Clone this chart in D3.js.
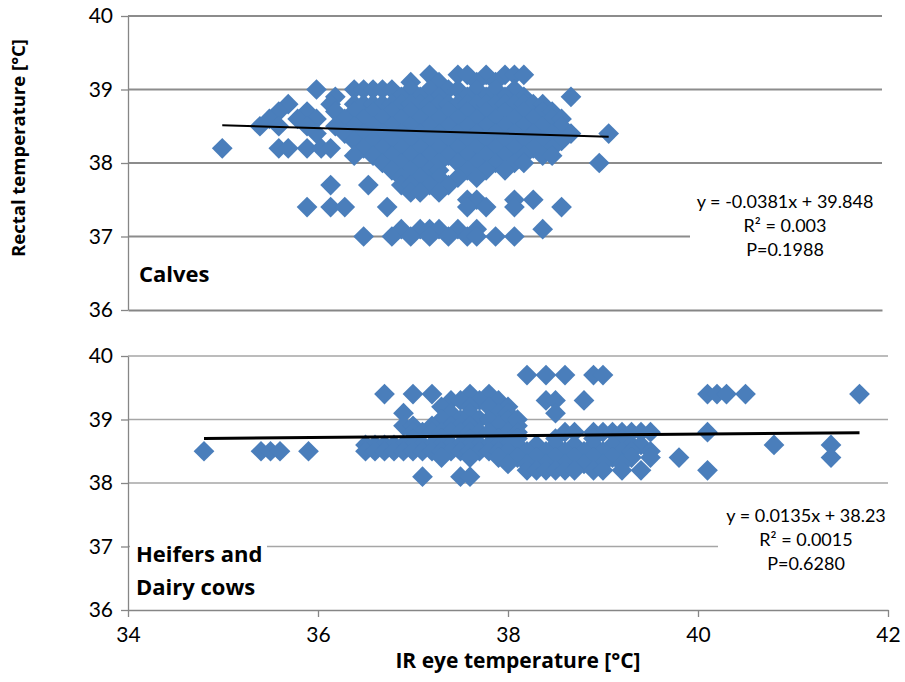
<!DOCTYPE html>
<html>
<head>
<meta charset="utf-8">
<script src="https://cdn.jsdelivr.net/npm/d3@7"></script>
<style>
  body { margin: 0; background: #fff; }
  text { font-family: Lato, "Noto Sans", sans-serif; fill: #000; }
  text.bold { font-family: "Open Sans", sans-serif; font-weight: bold; }
</style>
</head>
<body>
<script>
const width = 905;
const height = 682;

// data: [y, [x values on that row]]
const calvesRows = [
  [39.2, [37.2, 37.5, 37.6, 37.8, 38.0, 38.1, 38.2]],
  [39.1, [37.0, 37.3, 37.7, 37.9]],
  [39.0, [36.0, 36.4, 36.5, 36.6, 36.7, 36.8, 37.0, 37.2, 37.4, 37.5, 37.7, 37.9, 38.1]],
  [38.9, [36.2, 36.9, 37.1, 37.3, 37.6, 37.8, 38.0, 38.2, 38.7]],
  [38.8, [35.7, 36.15, 36.4, 36.5, 36.6, 36.7, 36.8, 36.9, 37.0, 37.1, 37.2, 37.3, 37.4, 37.5, 37.6, 37.7, 37.8, 37.9, 38.0, 38.1, 38.2, 38.3, 38.4]],
  [38.7, [35.6, 35.9, 36.2, 36.4, 36.6, 36.8, 37.0, 37.2, 37.4, 37.6, 37.8, 38.0, 38.2, 38.4, 38.5]],
  [38.6, [35.5, 35.8, 36.0, 36.3, 36.5, 36.7, 36.9, 37.1, 37.3, 37.5, 37.7, 37.9, 38.1, 38.3, 38.5, 38.6]],
  [38.5, [35.4, 35.6, 35.9, 36.2, 36.4, 36.6, 36.8, 37.0, 37.2, 37.4, 37.6, 37.8, 38.0, 38.2, 38.4, 38.6]],
  [38.4, [36.0, 36.3, 36.5, 36.7, 36.9, 37.1, 37.3, 37.5, 37.7, 37.9, 38.1, 38.3, 38.5, 38.7, 39.1]],
  [38.3, [36.4, 36.6, 36.8, 37.0, 37.2, 37.4, 37.6, 37.8, 38.0, 38.2, 38.4, 38.6]],
  [38.2, [35.0, 35.6, 35.7, 35.9, 36.05, 36.15, 36.5, 36.7, 36.9, 37.1, 37.3, 37.5, 37.7, 37.9, 38.1, 38.3, 38.5]],
  [38.1, [36.4, 36.6, 36.8, 37.0, 37.2, 37.4, 37.6, 37.8, 38.0, 38.2, 38.4, 38.5]],
  [38.0, [36.7, 36.9, 37.1, 37.3, 37.5, 37.7, 37.9, 38.1, 38.2, 39.0]],
  [37.9, [36.8, 37.0, 37.2, 37.3, 37.6, 37.8, 38.0]],
  [37.8, [36.9, 37.1, 37.3, 37.5, 37.7]],
  [37.7, [36.15, 36.55, 36.9, 37.0, 37.2, 37.4]],
  [37.6, [37.0, 37.1, 37.3]],
  [37.5, [37.6, 37.7, 38.1, 38.3]],
  [37.4, [35.9, 36.15, 36.3, 36.75, 37.6, 37.8, 38.1, 38.6]],
  [37.1, [36.9, 37.1, 37.2, 37.3, 37.5, 37.7, 38.4]],
  [37.0, [36.5, 36.8, 37.0, 37.2, 37.4, 37.6, 37.7, 37.9, 38.1]]
];

const cowsRows = [
  [39.7, [38.2, 38.4, 38.6, 38.9, 39.0]],
  [39.4, [36.7, 37.0, 37.2, 37.6, 37.8, 40.1, 40.2, 40.3, 40.5, 41.7]],
  [39.3, [37.4, 37.5, 37.7, 37.9, 38.4, 38.5, 38.8]],
  [39.2, [37.3, 37.6, 37.8, 38.0]],
  [39.1, [36.9, 37.4, 37.6, 37.9, 38.0, 38.5]],
  [39.0, [37.3, 37.5, 37.7, 37.8, 38.0, 38.1]],
  [38.9, [36.9, 37.0, 37.2, 37.4, 37.5, 37.6, 37.9, 38.1]],
  [38.8, [37.0, 37.1, 37.2, 37.3, 37.4, 37.5, 37.6, 37.7, 37.8, 38.0, 38.1, 38.6, 38.7, 38.9, 39.0, 39.1, 39.2, 39.3, 39.4, 39.5, 40.1]],
  [38.7, [37.0, 37.3, 37.6, 37.9, 38.1, 38.5, 38.9, 39.2]],
  [38.6, [36.5, 36.6, 36.7, 36.8, 36.9, 37.0, 37.1, 37.2, 37.3, 37.4, 37.5, 37.6, 37.7, 37.8, 37.9, 38.0, 38.1, 38.3, 38.5, 38.7, 38.9, 39.1, 39.3, 39.4, 40.8, 41.4]],
  [38.5, [34.8, 35.4, 35.5, 35.6, 35.9, 36.5, 36.6, 36.7, 36.8, 36.9, 37.0, 37.1, 37.2, 37.3, 37.4, 37.5, 37.6, 37.7, 37.8, 37.9, 38.0, 38.2, 38.4, 38.6, 38.8, 39.0, 39.2, 39.3, 39.5]],
  [38.4, [37.3, 37.6, 37.9, 38.1, 38.3, 38.5, 38.7, 38.9, 39.1, 39.3, 39.5, 39.8, 41.4]],
  [38.3, [38.0, 38.2, 38.4, 38.6, 38.8, 39.0, 39.2]],
  [38.2, [38.2, 38.3, 38.4, 38.5, 38.6, 38.7, 38.9, 39.0, 39.2, 39.4, 40.1]],
  [38.1, [37.1, 37.5, 37.6]]
];

const xTicks = [34, 36, 38, 40, 42];
const yTicks = [36, 37, 38, 39, 40];

const calvesFit = [-0.0381, 39.848];
const cowsFit = [0.0135, 38.23];
const calvesText = ['y = -0.0381x + 39.848', 'R² = 0.003', 'P=0.1988'];
const cowsText = ['y = 0.0135x + 38.23', 'R² = 0.0015', 'P=0.6280'];
const calvesName = ['Calves'];
const cowsName = ['Heifers and', 'Dairy cows'];

const toPoints = rows => rows.flatMap(([y, xs]) => xs.map(x => [x, y]));
const calves = toPoints(calvesRows);
const cows = toPoints(cowsRows);

const svg = d3.select('body')
  .append('svg')
  .attr('width', width)
  .attr('height', height);

const blue = '#4a7ebb';
const diamond = d3.symbol(d3.symbolSquare, 215);

function panel(cfg) {
  const { x, y, points, fit, grid, gridW, top } = cfg;
  const g = svg.append('g');
  const [x0, x1] = x.range();

  // gridlines
  g.selectAll('line.grid')
    .data(yTicks.slice(1))
    .join('line')
    .attr('x1', x0).attr('x2', x1)
    .attr('y1', d => y(d)).attr('y2', d => y(d))
    .attr('stroke', grid)
    .attr('stroke-width', gridW);

  // y axis
  const ya = g.append('g')
    .attr('transform', `translate(${x0},0)`)
    .call(d3.axisLeft(y).tickValues(yTicks).tickFormat(d3.format('d'))
      .tickSize(7).tickSizeOuter(0).tickPadding(8));
  ya.select('.domain').attr('stroke', '#868686').attr('stroke-width', 1.3);
  ya.selectAll('.tick line').attr('stroke', '#868686').attr('stroke-width', 1.3);
  ya.selectAll('.tick text').style('font-size', '21px').attr('fill', '#000');

  // x axis (labels only on the lower panel)
  const xa = g.append('g')
    .attr('transform', `translate(0,${y(36)})`)
    .call(d3.axisBottom(x).tickValues(top ? [] : xTicks).tickFormat(d3.format('d'))
      .tickSize(7).tickSizeOuter(0).tickPadding(10));
  xa.select('.domain').attr('stroke', '#868686').attr('stroke-width', top ? 2 : 1.3);
  xa.selectAll('.tick line').attr('stroke', '#868686').attr('stroke-width', 1.3);
  xa.selectAll('.tick text').style('font-size', '21px').attr('fill', '#000');

  // markers
  g.selectAll('path.pt')
    .data(points)
    .join('path')
    .attr('class', 'pt')
    .attr('d', diamond)
    .attr('transform', d => `translate(${x(d[0])},${y(d[1])}) rotate(45)`)
    .attr('fill', blue);

  // trendline across the data range
  const ext = d3.extent(points, d => d[0]);
  g.append('path')
    .datum(ext)
    .attr('d', d3.line().x(d => x(d)).y(d => y(fit[0] * d + fit[1])))
    .attr('stroke', '#000')
    .attr('stroke-width', top ? 2 : 3)
    .attr('fill', 'none');
  return g;
}

function labelBox(g, lines, box, tx, ty0, dy, anchor, size, cls) {
  g.append('rect')
    .attr('x', box[0]).attr('y', box[1])
    .attr('width', box[2]).attr('height', box[3])
    .attr('fill', '#fff');
  g.selectAll(null)
    .data(lines)
    .join('text')
    .attr('class', cls)
    .attr('x', tx)
    .attr('y', (d, i) => ty0 + i * dy)
    .attr('text-anchor', anchor)
    .style('font-size', size + 'px')
    .text(d => d);
}

const xTop = d3.scaleLinear([34, 42], [128, 882]);
const yTop = d3.scaleLinear([36, 40], [310, 16]);
const xBot = d3.scaleLinear([34, 42], [128, 888]);
const yBot = d3.scaleLinear([36, 40], [610, 356]);

const gTop = panel({ x: xTop, y: yTop, points: calves, fit: calvesFit, grid: '#8c8c8c', gridW: 2, top: true });
const gBot = panel({ x: xBot, y: yBot, points: cows, fit: cowsFit, grid: '#a6a6a6', gridW: 1.3, top: false });

labelBox(gTop, calvesText, [690, 186, 192, 76], 785, 208, 24, 'middle', 18, null);
labelBox(gTop, calvesName, [130, 255, 100, 35], 139, 282, 0, 'start', 22, 'bold');
labelBox(gBot, cowsText, [718, 500, 170, 78], 806, 522, 24, 'middle', 18, null);
labelBox(gBot, cowsName, [130, 530, 137, 76], 136, 562, 33, 'start', 22, 'bold');

// axis titles
svg.append('text')
  .attr('class', 'bold')
  .attr('x', 518).attr('y', 668)
  .attr('text-anchor', 'middle')
  .style('font-size', '21px')
  .text('IR eye temperature [°C]');

svg.append('text')
  .attr('class', 'bold')
  .attr('transform', 'translate(25,148) rotate(-90)')
  .attr('text-anchor', 'middle')
  .style('font-size', '18.5px')
  .text('Rectal temperature [°C]');
</script>
</body>
</html>
